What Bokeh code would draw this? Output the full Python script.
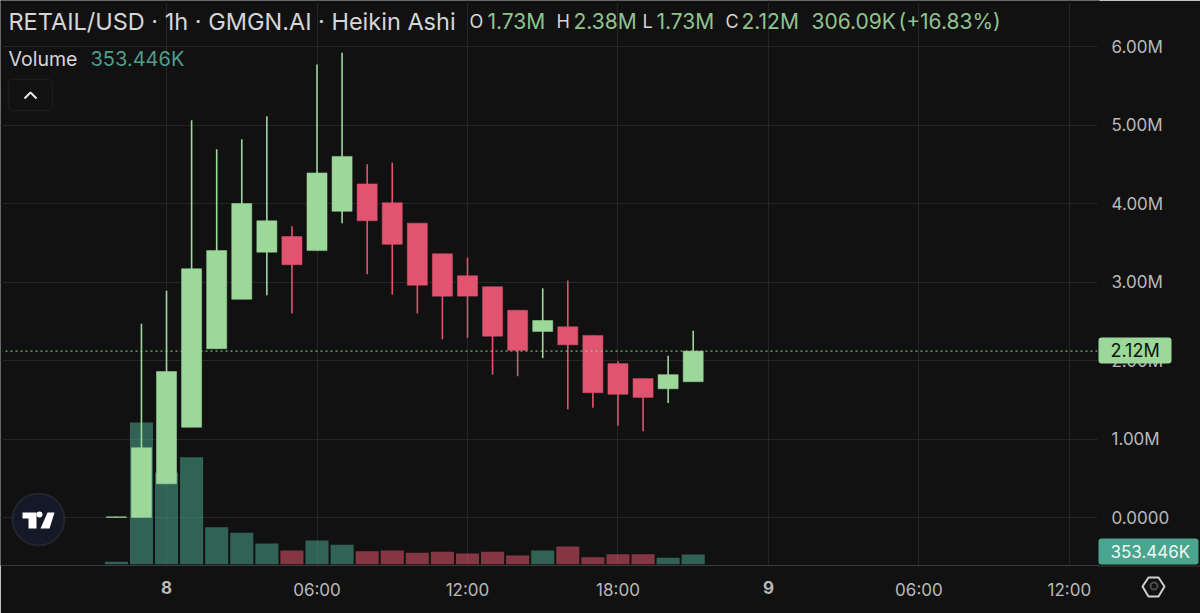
from bokeh.embed import file_html
from bokeh.resources import INLINE
from bokeh.plotting import figure
from bokeh.models import (ColumnDataSource, Range1d, FixedTicker, Span, Label,
                          BoxAnnotation, PolyAnnotation)

hours = [-2, -1, 0, 1, 2, 3, 4, 5, 6, 7, 8, 9, 10, 11, 12, 13, 14, 15, 16, 17, 18, 19, 20, 21]
opens = [0.00, 0.00, 0.43, 1.15, 2.15, 2.78, 3.38, 3.58, 3.40, 3.90, 4.25, 4.01,
         3.75, 3.36, 3.08, 2.94, 2.64, 2.37, 2.43, 2.32, 1.96, 1.77, 1.64, 1.73]
closes = [0.01, 0.89, 1.86, 3.17, 3.40, 4.00, 3.78, 3.22, 4.39, 4.60, 3.78, 3.48,
          2.96, 2.82, 2.82, 2.31, 2.13, 2.51, 2.20, 1.59, 1.57, 1.53, 1.82, 2.12]
highs = [0.01, 2.47, 2.89, 5.06, 4.69, 4.82, 5.11, 3.71, 5.77, 5.92, 4.50, 4.52,
         3.75, 3.36, 3.31, 2.94, 2.64, 2.92, 3.02, 2.32, 1.99, 1.77, 2.06, 2.38]
lows = [0.00, 0.00, 0.43, 1.15, 2.15, 2.78, 2.83, 2.60, 3.40, 3.75, 3.10, 2.84,
        2.60, 2.27, 2.29, 1.82, 1.80, 2.03, 1.38, 1.40, 1.17, 1.10, 1.46, 1.73]
volumes_k = [91, 5160, 3340, 3900, 1350, 1147, 757, 502, 866, 710, 477, 502,
             419, 455, 393, 455, 320, 502, 648, 258, 368, 368, 237, 353.446]

price_ticks = [0, 1, 2, 3, 4, 5, 6]
price_labels = ["0.0000", "1.00M", "2.00M", "3.00M", "4.00M", "5.00M", "6.00M"]
time_ticks = [6, 12, 18, 30, 36]
time_labels = ["06:00", "12:00", "18:00", "06:00", "12:00"]
day_ticks = [0, 24]
day_labels = ["8", "9"]
last_price = 2.12

BG, GRID, AXIS = "#111111", "#252525", "#3b3c40"
UP, DOWN = "#9dd89b", "#e1536e"
UP_V, DOWN_V = "#4aa58f", "#e5566d"
TXT, MUTED, VAL = "#d6d6d6", "#b9b9b9", "#8fc48d"
FONT = "Inter"

up = [c >= o for o, c in zip(opens, closes)]
src = ColumnDataSource(dict(
    x=hours, top=[max(o, c) for o, c in zip(opens, closes)],
    bottom=[min(o, c) for o, c in zip(opens, closes)],
    hi=highs, lo=lows, vol=volumes_k,
    color=[UP if u else DOWN for u in up],
    vcolor=[UP_V if u else DOWN_V for u in up],
))

X_START, X_END = -6.62, 37.16

p = figure(width=1200, height=613, output_backend="svg", toolbar_location=None,
           x_range=Range1d(X_START, X_END), y_range=Range1d(-0.611, 6.586),
           x_axis_location="below", y_axis_location="right",
           min_border_left=0, min_border_top=0, min_border_right=102, min_border_bottom=48,
           background_fill_color=BG, border_fill_color=BG, outline_line_color=None)
p.extra_y_ranges["vol"] = Range1d(-43.7, 20522)

# full-page transparent layer for everything that sits outside the plot frame
ov = figure(width=1200, height=613, output_backend="svg", toolbar_location=None,
            x_axis_location=None, y_axis_location=None,
            x_range=Range1d(0, 1200), y_range=Range1d(613, 0),
            min_border=0, background_fill_color=None, border_fill_color=None,
            outline_line_color=None,
            styles={"position": "absolute", "left": "0px", "top": "0px", "pointer-events": "none"})
ov.grid.visible = False

# grids
p.xgrid.ticker = FixedTicker(ticks=day_ticks + time_ticks)
p.ygrid.ticker = FixedTicker(ticks=price_ticks)
for g in (p.xgrid, p.ygrid):
    g.grid_line_color = GRID
    g.grid_line_width = 1

# axes
xa = p.xaxis[0]
xa.ticker = FixedTicker(ticks=time_ticks)
xa.major_label_overrides = dict(zip(time_ticks, time_labels))
xa.axis_line_color = AXIS
xa.major_tick_line_color = None
xa.minor_tick_line_color = None
xa.major_tick_out = 0
xa.major_label_text_color = MUTED
xa.major_label_text_font = FONT
xa.major_label_text_font_size = "17px"
xa.major_label_standoff = 14

ya = p.yaxis[0]
ya.ticker = FixedTicker(ticks=price_ticks)
ya.major_label_overrides = dict(zip(price_ticks, price_labels))
ya.axis_line_color = None
ya.major_tick_line_color = None
ya.minor_tick_line_color = None
ya.major_tick_out = 0
ya.major_label_text_color = MUTED
ya.major_label_text_font = FONT
ya.major_label_text_font_size = "17px"
ya.major_label_standoff = 13

# marks
p.vbar(x="x", top="vol", bottom=0, width=0.92, source=src, y_range_name="vol",
       fill_color="vcolor", fill_alpha=0.55, line_color=None)
p.segment(x0="x", x1="x", y0="lo", y1="hi", source=src, line_color="color", line_width=1.6)
p.vbar(x="x", top="top", bottom="bottom", width=0.8, source=src,
       fill_color="color", line_color="color", line_width=0.5)

p.add_layout(Span(location=last_price, dimension="width", line_color=UP,
                  line_dash=[2, 3], line_width=1))

def text(fig, s, x, y, color, size, style="normal", align="left", x_units="canvas"):
    fig.add_layout(Label(x=x, y=y, x_units=x_units, y_units="canvas", text=s,
                         text_color=color, text_font=FONT, text_font_size=f"{size}px",
                         text_font_style=style, text_baseline="middle", text_align=align))

def box(fig, l, r, t, b, fill, line=None, radius=0, lw=1):
    fig.add_layout(BoxAnnotation(left=l, right=r, top=t, bottom=b,
                                 left_units="canvas", right_units="canvas",
                                 top_units="canvas", bottom_units="canvas",
                                 fill_color=fill, fill_alpha=1, line_color=line, line_width=lw,
                                 border_radius=radius, editable=False))

def poly(fig, xs, ys, fill=None, line=None, lw=2):
    fig.add_layout(PolyAnnotation(xs=xs, ys=ys, xs_units="canvas", ys_units="canvas",
                                  fill_color=fill, fill_alpha=1 if fill else 0,
                                  line_color=line, line_width=lw, line_alpha=1 if line else 0,
                                  editable=False))

# mask the thin edge lines around the plot frame
box(ov, 1097, 1099, 0, 564, BG)
box(ov, 0, 2, 0, 564, BG)
box(ov, 0, 1099, 0, 2, BG)
# time-axis line continues under the price scale
box(ov, 1098, 1200, 565, 566, AXIS)

# bold day labels on the time axis, placed through the same hour-to-pixel mapping
px_per_hour = 1098 / (X_END - X_START)
for t, s in zip(day_ticks, day_labels):
    text(ov, s, (t - X_START) * px_per_hour, 587, MUTED, 17, "bold", "center")

text(p, "RETAIL/USD · 1h · GMGN.AI · Heikin Ashi", 8, 21, TXT, 23.5)
for s, x, c, z in [("O", 469, TXT, 18), ("1.73M", 487, VAL, 21), ("H", 556, TXT, 18), ("2.38M", 573, VAL, 21),
                   ("L", 642, TXT, 18), ("1.73M", 656, VAL, 21), ("C", 725, TXT, 18), ("2.12M", 741, VAL, 21),
                   ("306.09K", 811, VAL, 21), ("(+16.83%)", 898, VAL, 21)]:
    text(p, s, x, 21, c, z)
text(p, "Volume", 8, 58, TXT, 19.5)
text(p, "353.446K", 90, 58, "#4f9e8d", 20)

# collapse button
box(p, 8, 52, 79, 110, BG, "#33363d", 4, 1.5)
poly(p, [24, 30, 36, 30], [98, 92, 98, 92], None, "#e6e6e6", 2)

# logo
box(p, 12, 64, 493, 545, "#151826", "#4a4d55", 26, 2)
poly(p, [22, 36, 36, 28, 28, 22], [512, 512, 528, 528, 518, 518], "#ffffff", None)
poly(p, [47, 54, 49, 40], [512, 512, 528, 528], "#ffffff", None)
box(p, 36, 42, 511, 517, "#ffffff", None, 3)

# price pills
box(ov, 1098, 1171, 337, 363, UP, None, 3)
text(ov, "2.12M", 1110, 350, "#0c130c", 18)
box(ov, 1098, 1198, 538, 564, "#4aa58f", None, 3)
text(ov, "353.446K", 1110, 551, "#f1f7f5", 17)

# settings icon
poly(ov, [1148, 1158, 1164, 1158, 1148, 1142], [577, 577, 586, 596, 596, 586], None, "#d0d0d0", 2)
box(ov, 1150, 1157, 582, 589, BG, "#d0d0d0", 4, 2)

open("out.html", "w").write(file_html([p, ov], INLINE))
